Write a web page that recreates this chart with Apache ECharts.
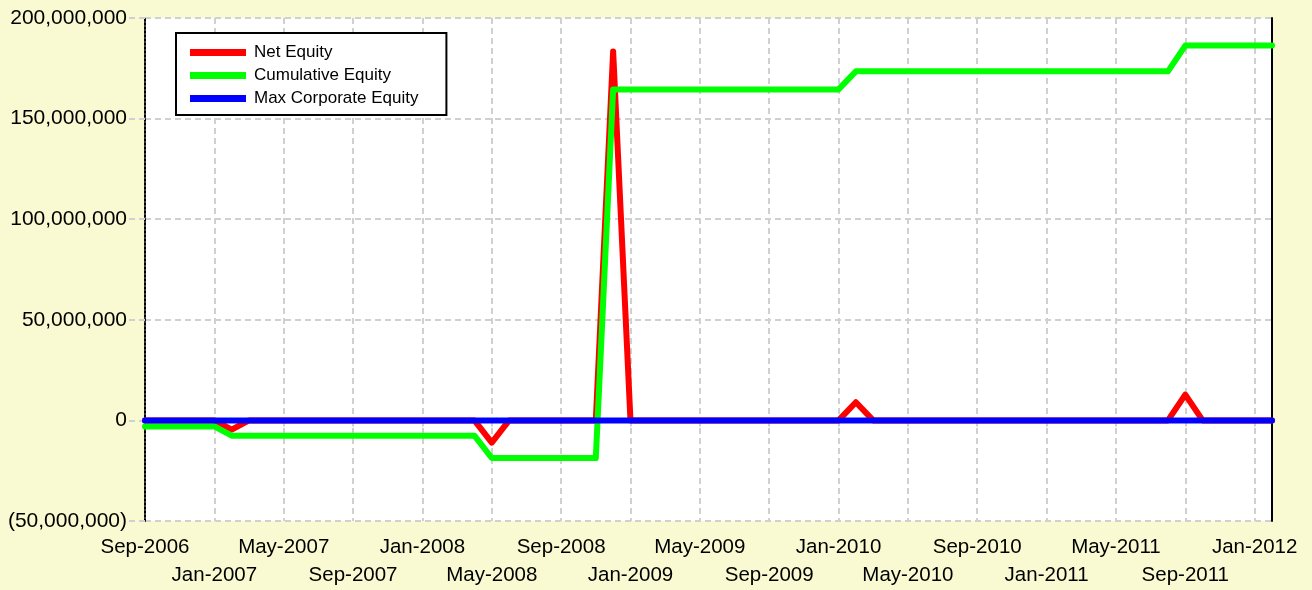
<!DOCTYPE html>
<html>
<head>
<meta charset="utf-8">
<script src="https://cdn.jsdelivr.net/npm/echarts@6/dist/echarts.min.js"></script>
<style>
  html, body { margin: 0; padding: 0; background: #FAFAD2; }
  #chartDiv { width: 1312px; height: 590px; }
</style>
</head>
<body>
<div id="chartDiv"></div>
<script>
// months on the x axis
const months = [
  'Sep-2006', 'Oct-2006', 'Nov-2006', 'Dec-2006',
  'Jan-2007', 'Feb-2007', 'Mar-2007', 'Apr-2007', 'May-2007', 'Jun-2007',
  'Jul-2007', 'Aug-2007', 'Sep-2007', 'Oct-2007', 'Nov-2007', 'Dec-2007',
  'Jan-2008', 'Feb-2008', 'Mar-2008', 'Apr-2008', 'May-2008', 'Jun-2008',
  'Jul-2008', 'Aug-2008', 'Sep-2008', 'Oct-2008', 'Nov-2008', 'Dec-2008',
  'Jan-2009', 'Feb-2009', 'Mar-2009', 'Apr-2009', 'May-2009', 'Jun-2009',
  'Jul-2009', 'Aug-2009', 'Sep-2009', 'Oct-2009', 'Nov-2009', 'Dec-2009',
  'Jan-2010', 'Feb-2010', 'Mar-2010', 'Apr-2010', 'May-2010', 'Jun-2010',
  'Jul-2010', 'Aug-2010', 'Sep-2010', 'Oct-2010', 'Nov-2010', 'Dec-2010',
  'Jan-2011', 'Feb-2011', 'Mar-2011', 'Apr-2011', 'May-2011', 'Jun-2011',
  'Jul-2011', 'Aug-2011', 'Sep-2011', 'Oct-2011', 'Nov-2011', 'Dec-2011',
  'Jan-2012', 'Feb-2012'
]

// values in millions
const netEquity = [
  0, 0, 0, 0,
  0, -4.6, 0, 0, 0, 0, 0, 0, 0, 0, 0, 0,
  0, 0, 0, 0, -11, 0, 0, 0, 0, 0, 0, 183.4,
  0, 0, 0, 0, 0, 0, 0, 0, 0, 0, 0, 0,
  0, 9, 0, 0, 0, 0, 0, 0, 0, 0, 0, 0,
  0, 0, 0, 0, 0, 0, 0, 0, 12.8, 0, 0, 0,
  0, 0
]
const cumulativeEquity = [
  -3, -3, -3, -3,
  -3, -7.6, -7.6, -7.6, -7.6, -7.6, -7.6, -7.6, -7.6, -7.6, -7.6, -7.6,
  -7.6, -7.6, -7.6, -7.6, -18.7, -18.7, -18.7, -18.7, -18.7, -18.7, -18.7, 164.5,
  164.5, 164.5, 164.5, 164.5, 164.5, 164.5, 164.5, 164.5, 164.5, 164.5, 164.5, 164.5,
  164.5, 173.5, 173.5, 173.5, 173.5, 173.5, 173.5, 173.5, 173.5, 173.5, 173.5, 173.5,
  173.5, 173.5, 173.5, 173.5, 173.5, 173.5, 173.5, 173.5, 186.3, 186.3, 186.3, 186.3,
  186.3, 186.3
]
const maxCorporateEquity = months.map(() => 0)

const seriesNames = ['Net Equity', 'Cumulative Equity', 'Max Corporate Equity']
const seriesColors = ['#FF0000', '#00FF00', '#0000FF']

const fontName = '"Liberation Sans", Arial, sans-serif'

// 金额格式，负数用括号
const moneyFormat = (v) => {
  const s = Math.abs(v).toString().replace(/\B(?=(\d{3})+(?!\d))/g, ',')
  return v < 0 ? '(' + s + ')' : s
}

const toUnits = (arr) => arr.map(v => Math.round(v * 1e6))

// tick every 4 months, labels alternate between two rows
const everyFour = (index) => index % 4 === 0
const upperRow = (index) => index % 8 === 0
const lowerRow = (index) => index % 8 === 4

const gridLine = { color: '#D0D0D0', type: [6, 4], width: 2 }

const labelBase = {
  showMinLabel: true,
  showMaxLabel: true,
  hideOverlap: false,
  fontSize: 20.5,
  color: '#000',
  fontFamily: fontName
}

const option = {
  backgroundColor: '#FAFAD2',
  animation: false,
  textStyle: { fontFamily: fontName },
  grid: {
    left: 145, right: 40, top: 18, bottom: 69,
    show: true, backgroundColor: '#FFFFFF', borderWidth: 0
  },
  legend: {
    orient: 'vertical',
    left: 176, top: 33,
    backgroundColor: '#FFFFFF',
    borderColor: '#000000', borderWidth: 2, borderRadius: 0,
    padding: [11, 28, 8, 14],
    itemWidth: 56, itemHeight: 7, itemGap: 6,
    icon: 'rect',
    textStyle: { fontSize: 17, color: '#000', fontFamily: fontName, padding: [0, 0, 0, 3] },
    data: seriesNames
  },
  xAxis: [
    {
      type: 'category',
      boundaryGap: false,
      data: months,
      axisLine: { lineStyle: { color: '#000', type: 'dotted', width: 2 } },
      axisTick: { interval: everyFour, length: 6, lineStyle: gridLine },
      splitLine: { show: true, interval: everyFour, lineStyle: gridLine },
      axisLabel: Object.assign({ interval: upperRow, margin: 16 }, labelBase)
    },
    {
      type: 'category',
      position: 'bottom',
      boundaryGap: false,
      data: months,
      axisLine: { show: false },
      axisTick: { show: false },
      splitLine: { show: false },
      axisLabel: Object.assign({ interval: lowerRow, margin: 44 }, labelBase)
    }
  ],
  yAxis: [
    {
      type: 'value',
      min: -50000000, max: 200000000, interval: 50000000,
      axisLine: { show: true, lineStyle: { color: '#000', type: 'dotted', width: 2 } },
      axisTick: { show: true, length: 16, lineStyle: gridLine },
      splitLine: { show: true, lineStyle: gridLine },
      axisLabel: { margin: 18, fontSize: 21, color: '#000', fontFamily: fontName, formatter: moneyFormat }
    },
    {
      type: 'value', position: 'right',
      min: -50000000, max: 200000000, interval: 50000000,
      axisLine: { show: true, lineStyle: { color: '#000', width: 2 } },
      axisTick: { show: false }, axisLabel: { show: false }, splitLine: { show: false }
    }
  ],
  series: [netEquity, cumulativeEquity, maxCorporateEquity].map((arr, i) => ({
    name: seriesNames[i],
    type: 'line',
    showSymbol: false,
    symbol: 'none',
    color: seriesColors[i],
    lineStyle: { width: 6, color: seriesColors[i], cap: 'round', join: 'round' },
    data: toUnits(arr)
  }))
}

const chart = echarts.init(document.getElementById('chartDiv'))
chart.setOption(option)
</script>
</body>
</html>
